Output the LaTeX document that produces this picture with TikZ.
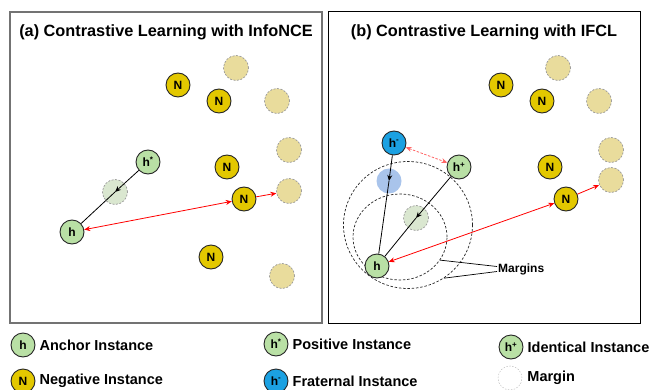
\documentclass[tikz,border=0pt]{standalone}
\usepackage{fontspec}
\setmainfont{Liberation Sans}
\usetikzlibrary{arrows.meta,positioning,shapes.geometric}

\definecolor{anchorgreen}{HTML}{B9E0A5}
\definecolor{fadegreen}{HTML}{DAE7D0}
\definecolor{negyellow}{HTML}{E3C800}
\definecolor{fadetan}{HTML}{E9DC9C}
\definecolor{fratblue}{HTML}{1BA1E2}
\definecolor{fadeblue}{HTML}{A9C4EB}

\begin{document}
\begin{tikzpicture}[
  x=1pt, y=-1pt,
  inst/.style={circle, draw=black!85, line width=0.9pt, minimum size=24pt, inner sep=0pt,
               font=\fontsize{12}{12}\selectfont\bfseries},
  anc/.style={inst, fill=anchorgreen},
  neg/.style={inst, fill=negyellow},
  frat/.style={inst, fill=fratblue},
  ghost/.style={circle, minimum size=25pt, inner sep=0pt, draw=black!40,
                dash pattern=on 2pt off 1.5pt, line width=0.7pt},
  ghostneg/.style={ghost, fill=fadetan},
  ghostpos/.style={ghost, fill=fadegreen},
  ghostfrat/.style={ghost, fill=fadeblue, draw=none},
  marg/.style={ellipse, draw=black!85, dash pattern=on 2.5pt off 1.8pt, line width=0.7pt, inner sep=0pt},
  ttl/.style={font=\fontsize{16.3}{18}\selectfont\bfseries},
  legtxt/.style={font=\fontsize{14.5}{16}\selectfont\bfseries, inner sep=0pt},
  pull/.style={-{Stealth[length=6pt,width=5pt]}, line width=0.8pt},
  push/.style={{Stealth[length=6pt,width=5pt]}-{Stealth[length=6pt,width=5pt]}, red, line width=0.8pt},
  pushone/.style={-{Stealth[length=6pt,width=5pt]}, red, line width=0.8pt},
  lead/.style={line width=0.7pt}
]
\useasboundingbox (0,0) rectangle (652,390);

% ---------------- panels ----------------
\draw[draw=black!55, line width=1.5pt] (10,12) rectangle (322,323);
\draw[draw=black, line width=1pt] (328,12) rectangle (640,323);
\node[ttl] (ttlA) at (166,32) {(a) Contrastive Learning with InfoNCE};
\node[ttl] (ttlB) at (484,32) {(b) Contrastive Learning with IFCL};

% ---------------- (a) InfoNCE ----------------
\node[ghostneg] (t1A) at (236,68) {};
\node[ghostneg] (t2A) at (277,101) {};
\node[ghostneg] (t3A) at (289,150) {};
\node[ghostneg] (t4A) at (289,191) {};
\node[ghostneg] (t5A) at (282,276) {};
\node[ghostpos] (gpA) at (115,192) {};

\node[neg] (n1A) at (178,85) {N};
\node[neg] (n2A) at (219,101) {N};
\node[neg] (n3A) at (227,167) {N};
\node[neg] (n4A) at (244,199) {N};
\node[neg] (n5A) at (211,257) {N};

\node[anc] (hsA) at (148,162) {h\textsuperscript{*}};
\node[anc] (hA) at (72,232) {h};

\draw[pull] (hsA) -- (gpA.center);
\draw[lead, line width=0.8pt] (gpA.center) -- (hA);
\draw[push] (hA) -- (n4A);
\draw[pushone] (n4A) -- (t4A);

% ---------------- (b) IFCL ----------------
\node[marg, minimum width=129pt, minimum height=127pt] (marBig) at (408,225) {};
\node[marg, minimum width=94pt, minimum height=86pt] (marSmall) at (400,237) {};

\node[ghostneg] (t1B) at (558,68) {};
\node[ghostneg] (t2B) at (599,101) {};
\node[ghostneg] (t3B) at (611,150) {};
\node[ghostneg] (t4B) at (611,180) {};
\node[ghostfrat] (gmB) at (389,181) {};
\node[ghostpos] (gpB) at (416,218) {};

\node[neg] (n1B) at (501,85) {N};
\node[neg] (n2B) at (542,101) {N};
\node[neg] (n3B) at (550,167) {N};
\node[neg] (n4B) at (566,199) {N};

\node[frat] (hmB) at (394,143) {h\textsuperscript{-}};
\node[anc] (hpB) at (459,167) {h\textsuperscript{+}};
\node[anc] (hB) at (377,266) {h};

\draw[pull] (hmB) -- (gmB.center);
\draw[lead, line width=0.8pt] (gmB.center) -- (hB);
\draw[pull] (hpB) -- (gpB.center);
\draw[lead, line width=0.8pt] (gpB.center) -- (hB);
\draw[push, draw=red!60, dash pattern=on 2.5pt off 1.5pt] (hmB) -- (hpB);
\draw[push] (hB) -- (n4B);
\draw[pushone] (n4B) -- (t4B);

\node[font=\fontsize{12}{14}\selectfont\bfseries, anchor=west, inner sep=1pt] (margins) at (497,269) {Margins};
\draw[lead] (marSmall.-30) -- ([yshift=2.5pt]margins.west);
\draw[lead] (marBig.-56) -- ([yshift=-2.5pt]margins.west);

% ---------------- legend ----------------
\node[anc] (lgh) at (23,345) {h};
\node[legtxt, right=4pt of lgh] {Anchor Instance};
\node[anc] (lgp) at (276,344) {h\textsuperscript{*}};
\node[legtxt, right=4pt of lgp] {Positive Instance};
\node[anc] (lgi) at (511,347) {h\textsuperscript{+}};
\node[legtxt, right=4pt of lgi] {Identical Instance};

\node[neg] (lgn) at (23,381) {N};
\node[legtxt, right=4pt of lgn] {Negative Instance};
\node[frat] (lgf) at (276,381) {h\textsuperscript{-}};
\node[legtxt, right=4pt of lgf] {Fraternal Instance};
\node[circle, minimum size=24pt, draw=black!25, dash pattern=on 1.5pt off 1.5pt, line width=0.5pt] (lgm) at (510,378) {};
\node[legtxt, right=5pt of lgm] {Margin};

\end{tikzpicture}
\end{document}
